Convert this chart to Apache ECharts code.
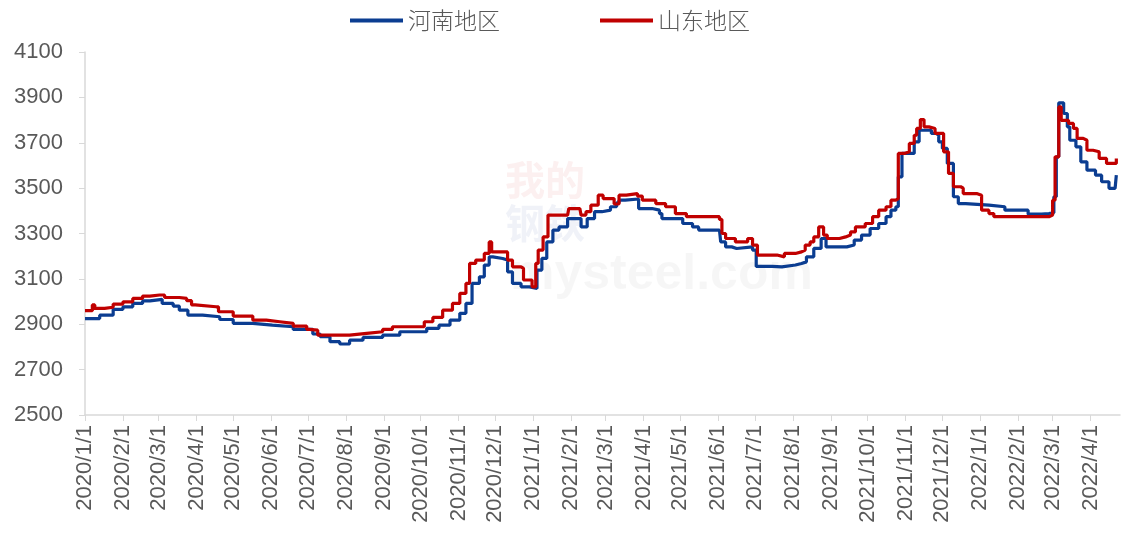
<!DOCTYPE html>
<html>
<head>
<meta charset="utf-8">
<script src="https://cdn.jsdelivr.net/npm/echarts@6/dist/echarts.min.js"></script>
<style>
html,body{margin:0;padding:0;background:#fff;}
#chart{width:1122px;height:536px;}
</style>
</head>
<body>
<div id="chart"></div>
<script>
// Tick labels (month starts)
const monthTicks = ['2020/1/1','2020/2/1','2020/3/1','2020/4/1','2020/5/1','2020/6/1','2020/7/1','2020/8/1','2020/9/1','2020/10/1','2020/11/1','2020/12/1',
  '2021/1/1','2021/2/1','2021/3/1','2021/4/1','2021/5/1','2021/6/1','2021/7/1','2021/8/1','2021/9/1','2021/10/1','2021/11/1','2021/12/1',
  '2022/1/1','2022/2/1','2022/3/1','2022/4/1'];
const yTicks = [2500, 2700, 2900, 3100, 3300, 3500, 3700, 3900, 4100];
const seriesNames = ['河南地区', '山东地区'];

// 河南地区
const henanDates = ['2020-01-01','2020-01-13','2020-01-24','2020-02-01','2020-02-09','2020-02-17','2020-02-23','2020-03-04','2020-03-13','2020-03-18','2020-03-25','2020-04-06','2020-04-20','2020-05-01','2020-05-17','2020-06-02','2020-06-19','2020-07-05','2020-07-11','2020-07-19','2020-07-27','2020-08-04','2020-08-15','2020-08-31','2020-09-14','2020-10-06','2020-10-16','2020-10-25','2020-11-02','2020-11-07','2020-11-12','2020-11-18','2020-11-22','2020-11-26','2020-11-29','2020-12-07','2020-12-11','2020-12-15','2020-12-22','2020-12-29',
  '2021-01-04','2021-01-08','2021-01-12','2021-01-17','2021-01-22','2021-01-29','2021-02-09','2021-02-14','2021-02-20','2021-02-26','2021-03-05','2021-03-10','2021-03-12','2021-03-17','2021-03-28','2021-04-08','2021-04-14','2021-04-16','2021-05-03','2021-05-11','2021-05-16','2021-06-02','2021-06-03','2021-06-07','2021-06-12','2021-06-16','2021-06-29','2021-07-02','2021-07-15','2021-07-23','2021-08-03','2021-08-08','2021-08-12','2021-08-18','2021-08-24','2021-08-28','2021-09-14','2021-09-20','2021-09-26','2021-10-03','2021-10-10','2021-10-16','2021-10-20','2021-10-24','2021-10-26','2021-10-29','2021-11-08','2021-11-12','2021-11-22','2021-11-26','2021-11-28','2021-12-01','2021-12-05','2021-12-10','2021-12-14','2021-12-20',
  '2022-01-08','2022-01-21','2022-02-09','2022-02-20','2022-02-26','2022-03-02','2022-03-04','2022-03-06','2022-03-10','2022-03-13','2022-03-15','2022-03-20','2022-03-24','2022-03-29','2022-04-05','2022-04-10','2022-04-16','2022-04-21','2022-04-22'];
const henanValues = [2925,2940,2966,2977,2992,3003,3010,2992,2980,2962,2940,2933,2921,2904,2896,2889,2877,2857,2845,2823,2813,2830,2842,2852,2867,2882,2896,2918,2948,2992,3080,3109,3161,3197,3190,3183,3131,3080,3065,3058,
  3139,3190,3263,3315,3329,3366,3329,3366,3396,3403,3418,3435,3447,3452,3410,3403,3388,3366,3344,3329,3315,3315,3263,3241,3234,3241,3227,3155,3153,3161,3168,3175,3197,3234,3278,3241,3249,3271,3293,3322,3344,3374,3403,3418,3550,3653,3704,3755,3741,3733,3704,3675,3609,3462,3432,3425,
  3418,3403,3385,3388,3392,3462,3638,3876,3829,3770,3711,3682,3616,3579,3557,3528,3499,3499,3557];

// 山东地区
const shandongDates = ['2020-01-01','2020-01-07','2020-01-09','2020-01-17','2020-01-24','2020-02-01','2020-02-09','2020-02-17','2020-02-23','2020-03-02','2020-03-06','2020-03-18','2020-03-24','2020-03-28','2020-03-31','2020-04-17','2020-04-19','2020-05-01','2020-05-17','2020-05-28','2020-06-08','2020-06-19','2020-06-30','2020-07-02','2020-07-09','2020-08-02','2020-08-04','2020-08-18','2020-08-31','2020-09-08','2020-09-30','2020-10-04','2020-10-11','2020-10-19','2020-10-27','2020-11-02','2020-11-07','2020-11-10','2020-11-15','2020-11-22','2020-11-26','2020-11-28','2020-12-04','2020-12-11','2020-12-15','2020-12-22','2020-12-24','2020-12-31',
  '2021-01-03','2021-01-05','2021-01-09','2021-01-13','2021-01-29','2021-01-30','2021-02-08','2021-02-09','2021-02-13','2021-02-17','2021-02-23','2021-02-27','2021-03-06','2021-03-08','2021-03-12','2021-03-18','2021-03-27','2021-03-31','2021-04-11','2021-04-19','2021-04-27','2021-05-06','2021-06-02','2021-06-04','2021-06-07','2021-06-15','2021-06-25','2021-06-29','2021-07-03','2021-07-15','2021-07-19','2021-07-25','2021-08-03','2021-08-08','2021-08-11','2021-08-15','2021-08-18','2021-08-22','2021-08-26','2021-08-29','2021-09-08','2021-09-13','2021-09-17','2021-09-21','2021-09-29','2021-10-05','2021-10-10','2021-10-16','2021-10-20','2021-10-24','2021-10-26','2021-10-31','2021-11-04','2021-11-08','2021-11-10','2021-11-13','2021-11-16','2021-11-20','2021-11-25','2021-12-02','2021-12-06','2021-12-10','2021-12-16','2021-12-18','2021-12-29',
  '2022-01-02','2022-01-08','2022-01-12','2022-02-26','2022-03-01','2022-03-03','2022-03-06','2022-03-08','2022-03-14','2022-03-18','2022-03-21','2022-03-26','2022-03-29','2022-04-03','2022-04-08','2022-04-14','2022-04-18','2022-04-22'];
const shandongValues = [2960,2985,2970,2975,2989,2999,3014,3024,3029,3029,3018,3014,3004,2985,2977,2977,2955,2936,2918,2911,2904,2892,2877,2874,2852,2852,2860,2867,2877,2889,2889,2911,2930,2962,2992,3036,3080,3168,3183,3212,3263,3219,3219,3183,3153,3146,3095,3065,
  3168,3227,3285,3381,3388,3410,3410,3381,3396,3425,3469,3454,3454,3430,3469,3476,3465,3447,3432,3418,3388,3374,3362,3300,3278,3263,3278,3249,3205,3205,3197,3212,3219,3227,3249,3263,3285,3329,3293,3278,3285,3293,3307,3329,3344,3374,3403,3418,3447,3454,3653,3660,3697,3733,3763,3802,3770,3763,3741,3660,3565,3506,3500,3476,3469,
  3403,3388,3374,3381,3447,3638,3858,3799,3785,3763,3719,3711,3667,3660,3631,3609,3609,3631];

function toTs(s) {
  const p = s.split(/[-\/]/).map(Number);
  return Date.UTC(p[0], p[1] - 1, p[2]);
}
const tickValues = monthTicks.map(toTs);
const henanData = henanDates.map((d, i) => [toTs(d), henanValues[i]]);
const shandongData = shandongDates.map((d, i) => [toTs(d), shandongValues[i]]);

const chart = echarts.init(document.getElementById('chart'));
const axisColor = '#d9d9d9';
const textColor = '#595959';
chart.setOption({
  animation: false,
  backgroundColor: '#ffffff',
  legend: {
    top: 4,
    left: 345,
    itemWidth: 53,
    itemHeight: 4,
    itemGap: 100,
    icon: 'rect',
    textStyle: { fontSize: 23, color: textColor, fontFamily: 'Noto Sans CJK SC', fontWeight: 300 },
    data: seriesNames
  },
  grid: { left: 85, right: 2, top: 52, bottom: 121, containLabel: false },
  graphic: [
    { type: 'text', left: 505, top: 160, style: { text: '我的', fontSize: 40, fontWeight: 'bold', fontFamily: 'Noto Sans CJK SC', fill: 'rgba(210,40,40,0.07)' } },
    { type: 'text', left: 505, top: 203, style: { text: '钢铁', fontSize: 40, fontWeight: 'bold', fontFamily: 'Noto Sans CJK SC', fill: 'rgba(40,70,150,0.07)' } },
    { type: 'text', left: 510, top: 250, style: { text: 'mysteel.com', fontSize: 50, fontWeight: 'bold', fontFamily: 'Liberation Sans', fill: 'rgba(0,0,0,0.035)' } }
  ],
  xAxis: {
    type: 'value',
    min: toTs('2020-01-01'),
    max: toTs('2022-04-25'),
    axisLine: { show: true, onZero: false, lineStyle: { color: axisColor, width: 1.5 } },
    axisTick: { show: true, length: 6, lineStyle: { color: axisColor }, customValues: tickValues },
    splitLine: { show: false },
    axisLabel: {
      customValues: tickValues,
      rotate: 90,
      margin: 10,
      fontSize: 22,
      color: textColor,
      fontFamily: 'Liberation Sans',
      hideOverlap: false,
      showMinLabel: true,
      showMaxLabel: true,
      formatter: function (v) {
        const d = new Date(v);
        return d.getUTCFullYear() + '/' + (d.getUTCMonth() + 1) + '/' + d.getUTCDate();
      }
    }
  },
  yAxis: {
    type: 'value',
    min: yTicks[0],
    max: yTicks[yTicks.length - 1],
    interval: 200,
    axisLine: { show: true, lineStyle: { color: axisColor, width: 1.5 } },
    axisTick: { show: true, length: 6, lineStyle: { color: axisColor } },
    splitLine: { show: false },
    axisLabel: { fontSize: 22, color: textColor, margin: 22, fontFamily: 'Liberation Sans', formatter: function (v) { return String(v); } }
  },
  series: [
    {
      name: seriesNames[0], type: 'line', data: henanData, showSymbol: false, step: 'end',
      lineStyle: { color: '#0b3d91', width: 3.2 }, itemStyle: { color: '#0b3d91' }, z: 3
    },
    {
      name: seriesNames[1], type: 'line', data: shandongData, showSymbol: false, step: 'end',
      lineStyle: { color: '#c00000', width: 3.2 }, itemStyle: { color: '#c00000' }, z: 4
    }
  ]
});
</script>
</body>
</html>
